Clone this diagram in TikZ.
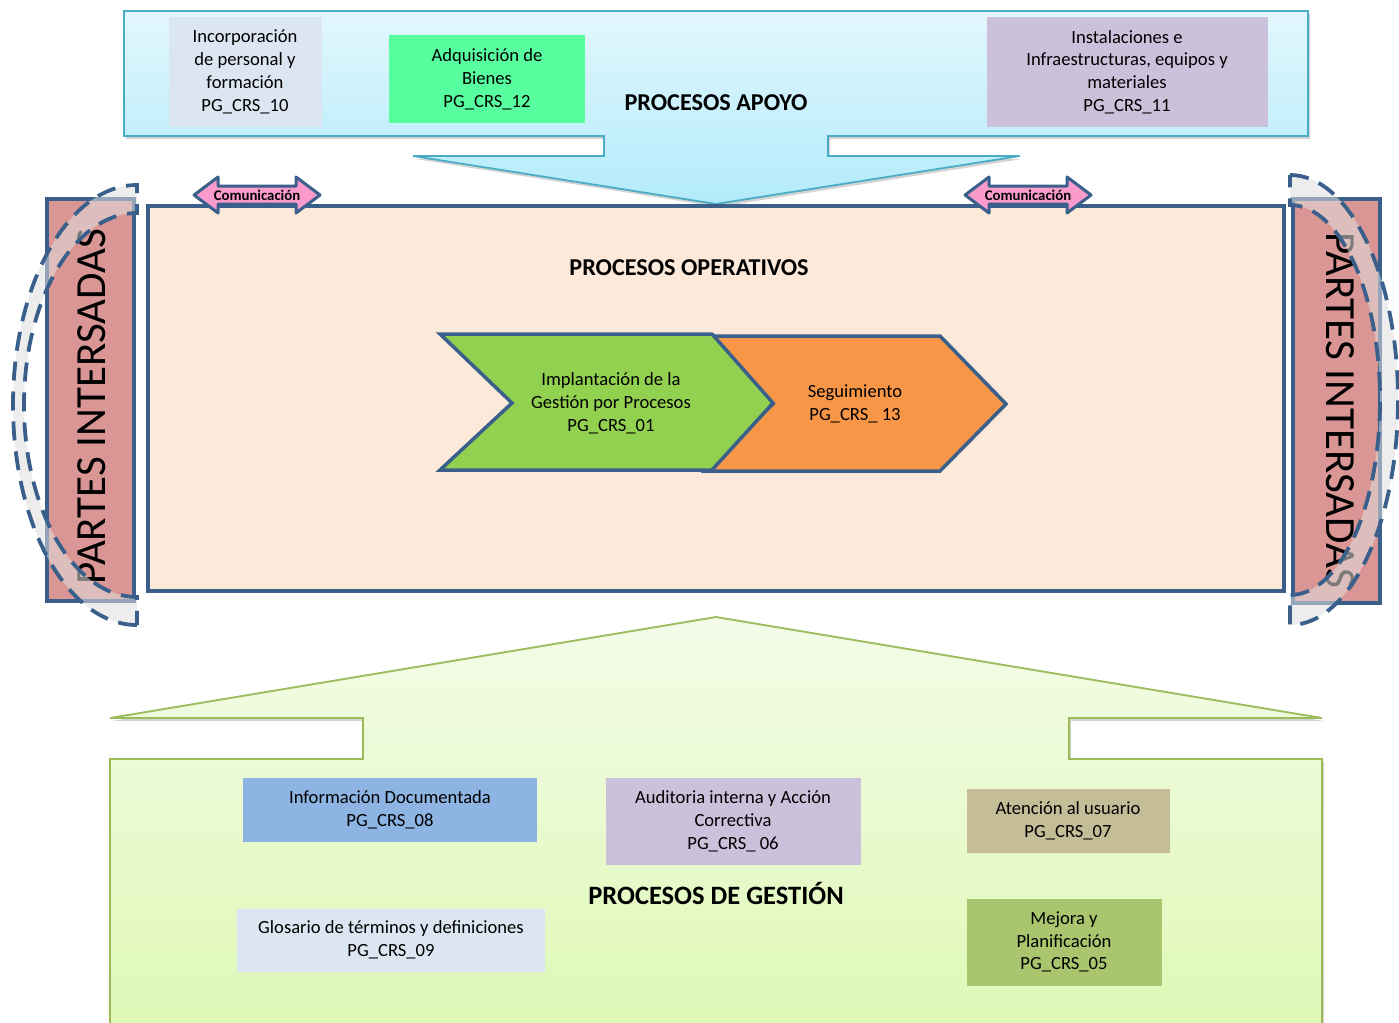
\documentclass[tikz,border=0pt]{standalone}
\usepackage{fontspec}
\setmainfont{Carlito}
\usepackage{tikz}
\usetikzlibrary{shadows}

\definecolor{apoyoTop}{HTML}{E2F7FD}
\definecolor{apoyoBot}{HTML}{B3EBFB}
\definecolor{apoyoLine}{HTML}{4BACC6}
\definecolor{boxGray}{HTML}{DCE6F2}
\definecolor{boxMint}{HTML}{57FF9F}
\definecolor{boxLila}{HTML}{CCC1DA}
\definecolor{opFill}{HTML}{FDE9D9}
\definecolor{navy}{HTML}{3A5F8B}
\definecolor{chevGreen}{HTML}{92D050}
\definecolor{chevOrange}{HTML}{F79646}
\definecolor{partesFill}{HTML}{D99694}
\definecolor{comPink}{HTML}{FA9BCB}
\definecolor{gestTop}{HTML}{F3FBE8}
\definecolor{gestBot}{HTML}{DEF8B4}
\definecolor{gestLine}{HTML}{9BBB59}
\definecolor{docBlue}{HTML}{8DB4E2}
\definecolor{beige}{HTML}{C4BD97}
\definecolor{olive}{HTML}{A9C56E}

\tikzset{
	proc/.style={align=center, inner sep=0pt, font=\fontsize{18.6}{22.8}\selectfont},
	title/.style={font=\fontsize{24.2}{28}\selectfont\bfseries},
	partes/.style={fill=partesFill, draw=navy, line width=3.5pt},
	partestext/.style={font=\fontsize{43}{45}\selectfont},
	crescent/.style={draw=navy, line width=3.8pt, dash pattern=on 19pt off 11pt, fill=gray!25, fill opacity=0.55},
	comarrow/.style={fill=comPink, draw=navy, line width=3pt, line join=round},
	comtext/.style={font=\fontsize{14.8}{16}\selectfont\bfseries, inner sep=0pt},
	chev/.style={draw=navy, line width=3.5pt, line join=miter}
}

\begin{document}
\begin{tikzpicture}[x=1pt, y=-1pt]
		\useasboundingbox (0,0) rectangle (1399,1022);

		\draw[apoyoLine, line width=1.8pt, top color=apoyoTop, bottom color=apoyoBot, drop shadow={opacity=0.35, shadow xshift=2pt, shadow yshift=-3pt}]
			(124,11) -- (1308,11) -- (1308,136) -- (828,136) -- (828,156) -- (1020,156) -- (716,204)
			-- (413,156) -- (604,156) -- (604,136) -- (124,136) -- cycle;

		\node[proc, fill=boxGray, minimum width=153, minimum height=110] (incorp) at (245,72) {Incorporación\\de personal y\\formación\\PG\_CRS\_10};
		\node[proc, fill=boxMint, minimum width=196, minimum height=88] (adqui) at (487,79) {Adquisición de\\Bienes\\PG\_CRS\_12};
		\node[proc, fill=boxLila, minimum width=281, minimum height=110] (instal) at (1127,72) {Instalaciones e\\Infraestructuras, equipos y\\materiales\\PG\_CRS\_11};
		\node[title] (apoyo) at (716,103) {PROCESOS APOYO};

		\draw[gestLine, line width=1.8pt, top color=gestTop, bottom color=gestBot, drop shadow={opacity=0.35, shadow xshift=2pt, shadow yshift=-3pt}]
			(716,617) -- (1322,718) -- (1069,718) -- (1069,759) -- (1322,759) -- (1322,1040) -- (110,1040)
			-- (110,759) -- (363,759) -- (363,718) -- (110,718) -- cycle;

		\draw[fill=opFill, draw=navy, line width=3.5pt] (148,206) rectangle (1284,591);
		\node[title] (operativos) at (689,268) {PROCESOS OPERATIVOS};

		\draw[chev, fill=chevOrange] (705,336) -- (940,336) -- (1006,404) -- (940,471) -- (705,471) -- (773,404) -- cycle;
		\draw[chev, fill=chevGreen] (440,334) -- (712,334) -- (773,403) -- (712,470) -- (440,470) -- (512,403) -- cycle;
		\node[proc] (implant) at (611,403) {Implantación de la\\Gestión por Procesos\\PG\_CRS\_01};
		\node[proc] (seguim) at (855,404) {Seguimiento\\PG\_CRS\_ 13};

		\foreach \cx/\nm in {257/comL, 1028/comR} {
			\draw[comarrow] (\cx-63,195) -- (\cx-39,177) -- (\cx-39,186) -- (\cx+39,186) -- (\cx+39,177) -- (\cx+63,195)
				-- (\cx+39,213) -- (\cx+39,204) -- (\cx-39,204) -- (\cx-39,213) -- cycle;
			\node[comtext] (\nm) at (\cx,195) {Comunicación};
		}

		\draw[partes] (47,199) rectangle (134,601);
		\node[partestext, rotate=90] (partesL) at (92,407) {PARTES INTERSADAS};
		\draw[partes] (1293,199) rectangle (1380,603);
		\node[partestext, rotate=-90] (partesR) at (1340,410) {PARTES INTERSADAS};

		\draw[crescent] (137,625) arc[start angle=90, end angle=270, x radius=124, y radius=220]
			-- (137,213) arc[start angle=270, end angle=90, x radius=113, y radius=192] -- cycle;
		\draw[crescent] (1290,175) arc[start angle=270, end angle=450, x radius=108, y radius=225]
			-- (1290,595) arc[start angle=90, end angle=-90, x radius=90, y radius=195] -- cycle;

		\node[proc, fill=docBlue, minimum width=294, minimum height=64] (infodoc) at (390,810) {Información Documentada\\PG\_CRS\_08};
		\node[proc, fill=boxLila, minimum width=255, minimum height=87] (audit) at (733,821) {Auditoria interna y Acción\\Correctiva\\PG\_CRS\_ 06};
		\node[proc, fill=beige, minimum width=203, minimum height=64] (atencion) at (1068,821) {Atención al usuario\\PG\_CRS\_07};
		\node[proc, fill=boxGray, minimum width=308, minimum height=63] (glosario) at (391,940) {Glosario de términos y definiciones\\PG\_CRS\_09};
		\node[proc, fill=olive, minimum width=195, minimum height=87] (mejora) at (1064,942) {Mejora y\\Planificación\\PG\_CRS\_05};
		\node[title, font=\fontsize{26.5}{30}\selectfont\bfseries] (gestion) at (716,893) {PROCESOS DE GESTIÓN};
	\end{tikzpicture}
\end{document}
